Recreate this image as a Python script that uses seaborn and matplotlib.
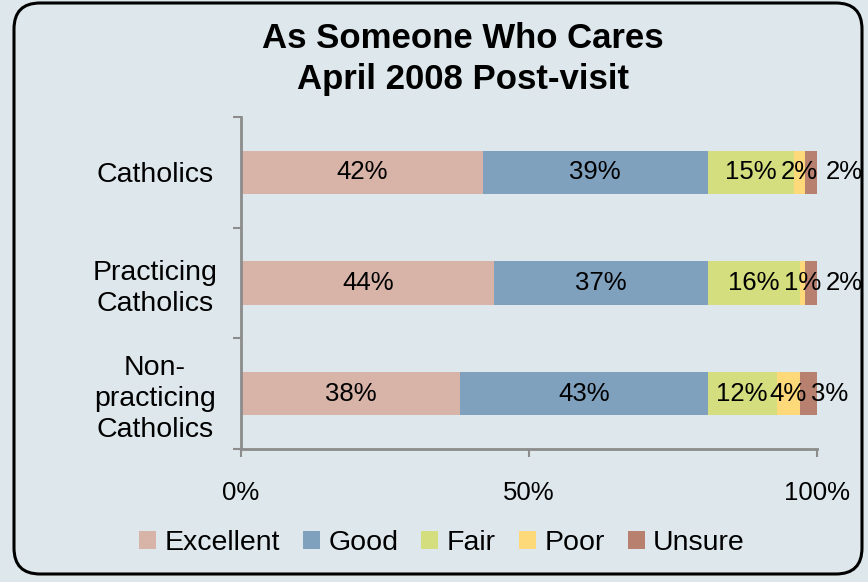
import numpy as np
import pandas as pd
import matplotlib.pyplot as plt
import seaborn as sns
from matplotlib.patches import FancyBboxPatch

groups = ["Catholics", "Practicing\nCatholics", "Non-\npracticing\nCatholics"]
responses = ["Excellent", "Good", "Fair", "Poor", "Unsure"]
excellent = [42, 44, 38]
good = [39, 37, 43]
fair = [15, 16, 12]
poor = [2, 1, 4]
unsure = [2, 2, 3]

colors = ["#D8B4A8", "#7FA1BE", "#D4DE7E", "#FDD97A", "#B8806E"]
bg = "#DEE8EC"
fs = 20.5
fs_num = 18.5

sns.set_style("white", {"xtick.bottom": True, "ytick.left": True,
                        "text.color": "black", "xtick.color": "black", "ytick.color": "black"})
plt.rcParams["font.family"] = ["Liberation Sans", "DejaVu Sans"]

df = pd.DataFrame({"group": groups, "Excellent": excellent, "Good": good,
                   "Fair": fair, "Poor": poor, "Unsure": unsure})
cum = df[responses].cumsum(axis=1)

fig = plt.figure(figsize=(8.68, 5.82), dpi=100, facecolor=bg)
ax = fig.add_axes([241/868, 1-449/582, (817-241)/868, (449-117)/582])
ax.set_facecolor(bg)

# draw longest cumulative first so shorter ones sit on top
for resp, col in reversed(list(zip(responses, colors))):
    sns.barplot(data=cum.assign(group=groups), x=resp, y=groups, color=col,
                width=0.39, orient="h", ax=ax, label=resp, saturation=1, linewidth=0)

ax.set_xlim(0, 100)
ax.set_ylim(2.5, -0.5)
ax.set_xlabel("")
ax.set_ylabel("")
ax.set_xticks([0, 50, 100])
ax.set_xticklabels(["0%", "50%", "100%"])
ax.set_yticks([0, 1, 2])
ax.set_yticklabels(groups, ha="center", multialignment="center", linespacing=1.25)
ax.set_yticks([-0.5, 0.5, 1.5, 2.5], minor=True)
ax.tick_params(axis="y", which="major", length=0, pad=62, labelsize=fs, labelcolor="black")
ax.tick_params(axis="y", which="minor", length=6, width=1.5, color="#8C8C8C", direction="out")
ax.tick_params(axis="x", length=6, width=1.5, color="#8C8C8C", direction="out", pad=17,
               labelsize=fs_num, labelcolor="black")
for s in ["top", "right"]:
    ax.spines[s].set_visible(False)
for s in ["left", "bottom"]:
    ax.spines[s].set_color("#8C8C8C")
    ax.spines[s].set_linewidth(2)

# data labels
unsure_shift = [4, 4, -6]
for i in range(len(groups)):
    left = 0
    for j, resp in enumerate(responses):
        v = df.loc[i, resp]
        if j < 4:
            ax.text(left + v / 2, i, f"{v}%", ha="center", va="center", fontsize=fs_num)
        else:
            ax.annotate(f"{v}%", (left + v, i), xytext=(unsure_shift[i] + 2, 0),
                        textcoords="offset points", ha="left", va="center", fontsize=fs_num)
        left += v

handles, labels = ax.get_legend_handles_labels()
ax.get_legend().remove()
order = [labels.index(r) for r in responses]
fig.legend([handles[k] for k in order], responses, loc="center", ncol=5,
           bbox_to_anchor=(442/868, 1-543/582), frameon=False, fontsize=fs,
           handlelength=0.6, handleheight=0.6, handletextpad=0.3, columnspacing=0.8)

fig.text(463/868, 1-38/582, "As Someone Who Cares", ha="center", va="center",
         fontsize=25, fontweight="bold")
fig.text(463/868, 1-79/582, "April 2008 Post-visit", ha="center", va="center",
         fontsize=25, fontweight="bold")

frame = FancyBboxPatch((14/868, 8/582), (862-14)/868, (579-8)/582,
                       boxstyle="round,pad=0,rounding_size=0.03",
                       transform=fig.transFigure, fill=False, edgecolor="black",
                       linewidth=2.2, mutation_aspect=868/582)
fig.patches.append(frame)

fig.savefig("out.png", dpi=100, facecolor=bg)
